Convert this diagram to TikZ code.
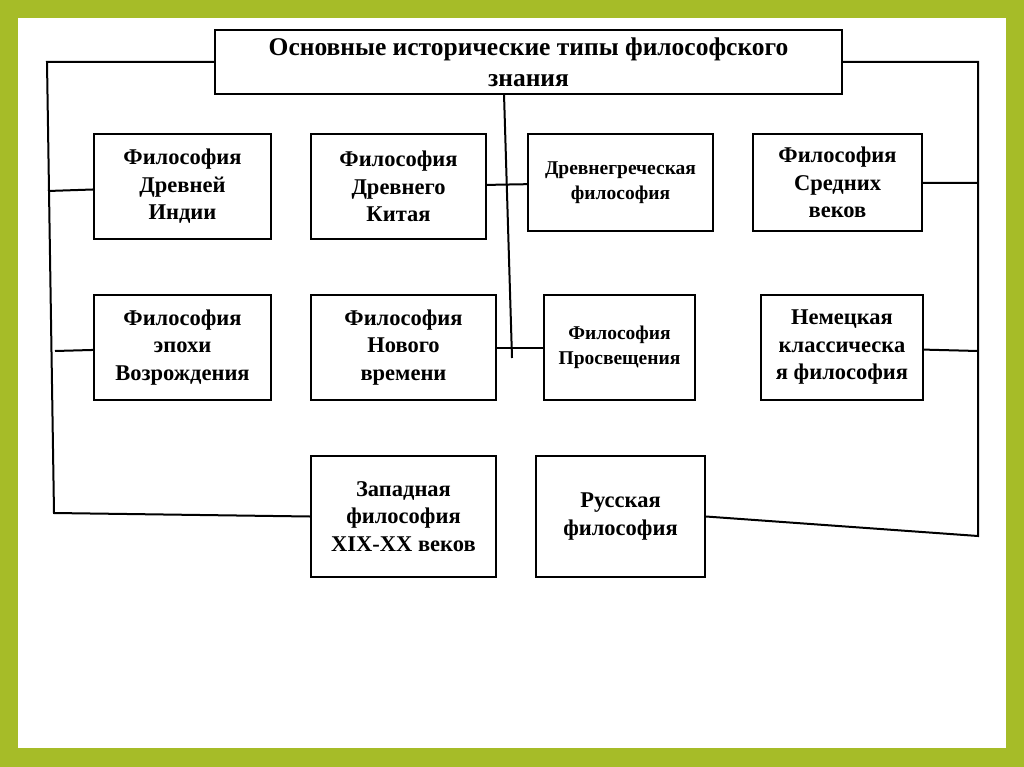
\documentclass[tikz,border=0pt]{standalone}
\usepackage{fontspec}
\setmainfont{Liberation Serif}
\usepackage{xcolor}
\definecolor{frame}{RGB}{166,188,40}

\begin{document}
\begin{tikzpicture}[x=1pt,y=-1pt,line width=2pt,
    box/.style={draw,align=center,inner sep=0pt,font=\bfseries\fontsize{22.5}{27.5}\selectfont},
    small/.style={font=\bfseries\fontsize{19.5}{25}\selectfont}]
       \fill[frame] (0,0) rectangle (1024,767);
       \fill[white] (18,18) rectangle (1006,748);

       \node[box,minimum width=627,minimum height=64,font=\bfseries\fontsize{25.5}{31}\selectfont] (title) at (528.5,62) {Основные исторические типы философского\\знания};

       \node[box,minimum width=177,minimum height=105] (indii) at (182.5,186.5) {Философия\\Древней\\Индии};
       \node[box,minimum width=175,minimum height=105] (kitai) at (398.5,186.5) {Философия\\Древнего\\Китая};
       \node[box,small,minimum width=185,minimum height=97] (greek) at (620.5,182.5) {Древнегреческая\\философия};
       \node[box,minimum width=169,minimum height=97] (sred) at (837.5,182.5) {Философия\\Средних\\веков};

       \node[box,minimum width=177,minimum height=105] (vozr) at (182.5,347.5) {Философия\\эпохи\\Возрождения};
       \node[box,minimum width=185,minimum height=105] (novoe) at (403.5,347.5) {Философия\\Нового\\времени};
       \node[box,small,minimum width=151,minimum height=105] (prosv) at (619.5,347.5) {Философия\\Просвещения};
       \node[box,minimum width=162,minimum height=105] (nem) at (842,347.5) {Немецкая\\классическа\\я философия};

       \node[box,minimum width=185,minimum height=121] (zapad) at (403.5,516.5) {Западная\\философия\\XIX-XX веков};
       \node[box,minimum width=169,minimum height=121] (rus) at (620.5,516.5) {Русская\\философия};

       \coordinate (lt) at (47,62);
       \coordinate (lb) at (54,513);
       \coordinate (li) at (48,191);
       \coordinate (lv) at (55,351);
       \coordinate (rt) at (978,62);
       \coordinate (rb) at (978,536);
       \coordinate (rs) at (978,183);
       \coordinate (rn) at (978,351);
       \coordinate (mt) at (504,94);
       \coordinate (mb) at (512,358);

       \draw (title.west) -- (lt) -- (lb) -- (zapad.west);
       \draw (title.east) -- (rt) -- (rb) -- (rus.east);
       \draw (mt) -- (mb);
       \path
       (indii) edge (li)
       (vozr) edge (lv)
       (kitai) edge (greek)
       (novoe) edge (prosv)
       (sred) edge (rs)
       (nem) edge (rn);
    \end{tikzpicture}
\end{document}
